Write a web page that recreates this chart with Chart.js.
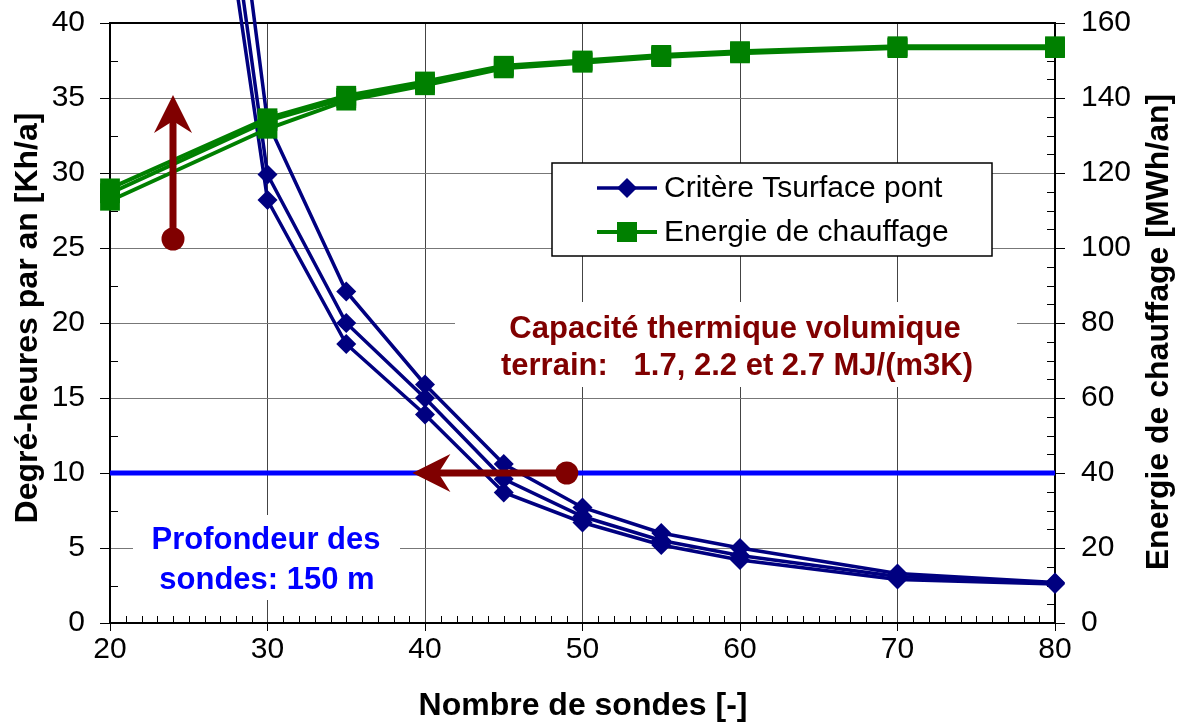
<!DOCTYPE html>
<html>
<head>
<meta charset="utf-8">
<title>Degré-heures et énergie de chauffage</title>
<script src="https://cdn.jsdelivr.net/npm/chart.js@4.4.0/dist/chart.umd.min.js"></script>
<style>
  html, body { margin: 0; padding: 0; background: #fff; }
  #chart { display: block; }
</style>
</head>
<body>
<canvas id="chart" width="1179" height="722"></canvas>
<script>
const nbSondes = [20, 30, 35, 40, 45, 50, 55, 60, 70, 80];

// Critère Tsurface pont, degré-heures par an [Kh/a], one curve per capacité thermique
const critere17 = [115, 33.4, 22.1, 15.9, 10.6, 7.7, 6.0, 5.0, 3.3, 2.7];
const critere22 = [106, 29.9, 20.0, 15.0, 9.6, 7.1, 5.5, 4.5, 3.1, 2.65];
const critere27 = [100, 28.2, 18.6, 13.9, 8.7, 6.7, 5.2, 4.2, 2.9, 2.6];

// Energie de chauffage [MWh/an]
const energie27 = [115.9, 134.6, 140.6, 144.4, 148.6, 150.0, 151.5, 152.5, 153.8, 153.8];
const energie22 = [114.6, 133.9, 140.0, 143.9, 148.3, 149.7, 151.2, 152.2, 153.5, 153.5];
const energie17 = [112.6, 131.8, 139.3, 143.4, 147.9, 149.4, 150.9, 151.9, 153.3, 153.3];

// limite des degré-heures
const seuilX = [20, 80];
const seuilY = [10, 10];

// flèches: vers le haut (sondes, Kh/a début, Kh/a fin) et vers la gauche (Kh/a, sondes début, sondes fin)
const flecheHaut = [24, 25.6, 35.2];
const flecheGauche = [10, 49, 39.2];

const xTicks = { min: 20, max: 80, step: 10 };
const yTicks = { min: 0, max: 40, step: 5 };
const y1Ticks = { min: 0, max: 160, step: 20 };

const FONT = "'Liberation Sans', Arial, Helvetica, sans-serif";
const NAVY = '#000080';
const GREEN = '#008000';
const RED = '#800000';
const BLUE = '#0000ff';

function pts(xs, ys) {
  return xs.map((x, i) => ({ x: x, y: ys[i] }));
}

function greenSet(ys) {
  return {
    data: pts(nbSondes, ys),
    yAxisID: 'y1',
    borderColor: GREEN,
    backgroundColor: GREEN,
    borderWidth: 4,
    pointStyle: 'rect',
    pointRadius: 14,
    pointBorderWidth: 0,
    clip: 15
  };
}

function navySet(ys) {
  return {
    data: pts(nbSondes, ys),
    yAxisID: 'y',
    borderColor: NAVY,
    backgroundColor: NAVY,
    borderWidth: 3.5,
    pointStyle: 'rectRot',
    pointRadius: 10,
    pointBorderWidth: 0,
    clip: { left: 12, top: 30, right: 12, bottom: 12 }
  };
}

function arrow(ctx, x0, y0, x1, y1) {
  const ang = Math.atan2(y1 - y0, x1 - x0);
  const len = Math.hypot(x1 - x0, y1 - y0);
  ctx.save();
  ctx.translate(x0, y0);
  ctx.rotate(ang);
  ctx.fillStyle = RED;
  ctx.fillRect(0, -3.5, len - 24, 7);
  ctx.beginPath();
  ctx.moveTo(len, 0);
  ctx.lineTo(len - 38, -19);
  ctx.lineTo(len - 26, 0);
  ctx.lineTo(len - 38, 19);
  ctx.closePath();
  ctx.fill();
  ctx.beginPath();
  ctx.arc(0, 0, 11.5, 0, Math.PI * 2);
  ctx.fill();
  ctx.restore();
}

function textBox(ctx, box, lines, color) {
  ctx.fillStyle = '#fff';
  ctx.fillRect(box[0], box[1], box[2], box[3]);
  ctx.fillStyle = color;
  ctx.font = 'bold 31px ' + FONT;
  ctx.textAlign = 'center';
  ctx.textBaseline = 'alphabetic';
  lines.forEach(l => ctx.fillText(l[0], l[1], l[2]));
}

const decorations = {
  id: 'decorations',
  beforeDatasetsDraw(chart) {
    const { ctx, chartArea: a, scales } = chart;
    ctx.save();
    ctx.strokeStyle = '#000';
    ctx.lineWidth = 1;
    ctx.beginPath();
    // petites graduations
    for (let v = xTicks.min + 1; v < xTicks.max; v++) {
      if (v % xTicks.step === 0) continue;
      const px = Math.round(scales.x.getPixelForValue(v)) + 0.5;
      ctx.moveTo(px, a.bottom);
      ctx.lineTo(px, a.bottom - 7);
    }
    for (let v = yTicks.step / 2; v < yTicks.max; v += yTicks.step) {
      const py = Math.round(scales.y.getPixelForValue(v)) + 0.5;
      ctx.moveTo(a.left, py);
      ctx.lineTo(a.left + 8, py);
    }
    for (let v = y1Ticks.step / 4; v < y1Ticks.max; v += y1Ticks.step / 4) {
      if (v % y1Ticks.step === 0) continue;
      const py = Math.round(scales.y1.getPixelForValue(v)) + 0.5;
      ctx.moveTo(a.right, py);
      ctx.lineTo(a.right - 8, py);
    }
    ctx.stroke();
    // cadre
    ctx.lineWidth = 2;
    ctx.strokeRect(a.left, a.top, a.right - a.left, a.bottom - a.top);
    ctx.restore();
  },
  afterDatasetsDraw(chart) {
    const { ctx, scales } = chart;
    const { x, y } = scales;
    arrow(ctx,
      x.getPixelForValue(flecheHaut[0]), y.getPixelForValue(flecheHaut[1]),
      x.getPixelForValue(flecheHaut[0]), y.getPixelForValue(flecheHaut[2]));
    arrow(ctx,
      x.getPixelForValue(flecheGauche[1]), y.getPixelForValue(flecheGauche[0]),
      x.getPixelForValue(flecheGauche[2]), y.getPixelForValue(flecheGauche[0]));
  },
  afterDraw(chart) {
    const { ctx } = chart;
    ctx.save();

    // légende
    ctx.fillStyle = '#fff';
    ctx.fillRect(552, 163, 440, 93);
    ctx.strokeStyle = '#000';
    ctx.lineWidth = 1.5;
    ctx.strokeRect(552, 163, 440, 93);
    const rows = [
      { y: 188, color: NAVY, label: 'Critère Tsurface pont', marker: 'diamond' },
      { y: 232, color: GREEN, label: 'Energie de chauffage', marker: 'square' }
    ];
    rows.forEach(r => {
      ctx.strokeStyle = r.color;
      ctx.fillStyle = r.color;
      ctx.lineWidth = r.marker === 'diamond' ? 3.5 : 4;
      ctx.beginPath();
      ctx.moveTo(597, r.y);
      ctx.lineTo(657, r.y);
      ctx.stroke();
      ctx.beginPath();
      if (r.marker === 'diamond') {
        ctx.moveTo(627, r.y - 10);
        ctx.lineTo(637, r.y);
        ctx.lineTo(627, r.y + 10);
        ctx.lineTo(617, r.y);
        ctx.closePath();
      } else {
        ctx.rect(617, r.y - 10, 20, 20);
      }
      ctx.fill();
      ctx.fillStyle = '#000';
      ctx.font = '30px ' + FONT;
      ctx.textAlign = 'left';
      ctx.textBaseline = 'middle';
      ctx.fillText(r.label, 664, r.y + 1);
    });

    // annotations
    textBox(ctx, [455, 302, 562, 85], [
      ['Capacité thermique volumique', 735, 338],
      ['terrain:   1.7, 2.2 et 2.7 MJ/(m3K)', 737, 375]
    ], RED);
    textBox(ctx, [133, 515, 267, 85], [
      ['Profondeur des', 266, 549],
      ['sondes: 150 m', 267, 589]
    ], BLUE);

    // titres des axes
    ctx.fillStyle = '#000';
    ctx.font = 'bold 32px ' + FONT;
    ctx.textAlign = 'center';
    ctx.textBaseline = 'middle';
    ctx.fillText('Nombre de sondes [-]', 583, 706);
    ctx.save();
    ctx.translate(28, 318);
    ctx.rotate(-Math.PI / 2);
    ctx.fillText('Degré-heures par an [Kh/a]', 0, 0);
    ctx.restore();
    ctx.save();
    ctx.translate(1159, 332);
    ctx.rotate(-Math.PI / 2);
    ctx.fillText('Energie de chauffage [MWh/an]', 0, 0);
    ctx.restore();

    ctx.restore();
  }
};

const tickFont = { family: FONT, size: 30, lineHeight: 1 };

// fixed axis sizes, no extra room reserved for the end labels
function fixWidth(w) {
  return s => { s.width = w; s.paddingTop = 0; s.paddingBottom = 0; };
}

new Chart(document.getElementById('chart'), {
  type: 'line',
  data: {
    datasets: [
      greenSet(energie27),
      greenSet(energie22),
      greenSet(energie17),
      navySet(critere17),
      navySet(critere22),
      navySet(critere27),
      {
        data: pts(seuilX, seuilY),
        yAxisID: 'y',
        borderColor: BLUE,
        borderWidth: 5,
        pointRadius: 0
      }
    ]
  },
  options: {
    responsive: false,
    animation: false,
    devicePixelRatio: 1,
    layout: { padding: { top: 23, left: 0, right: 0, bottom: 0 } },
    plugins: {
      legend: { display: false },
      tooltip: { enabled: false }
    },
    scales: {
      x: {
        type: 'linear',
        min: xTicks.min,
        max: xTicks.max,
        afterFit: s => { s.height = 99; s.paddingLeft = 0; s.paddingRight = 0; },
        ticks: { stepSize: xTicks.step, font: tickFont, color: '#000', padding: 4, maxRotation: 0 },
        grid: { color: '#444', lineWidth: 1, tickLength: 8, tickColor: '#000' },
        border: { display: false }
      },
      y: {
        position: 'left',
        min: yTicks.min,
        max: yTicks.max,
        afterFit: fixWidth(110),
        ticks: { stepSize: yTicks.step, font: tickFont, color: '#000', padding: 15 },
        grid: { color: '#777', lineWidth: 1, tickLength: 10, tickColor: '#000' },
        border: { display: false }
      },
      y1: {
        position: 'right',
        min: y1Ticks.min,
        max: y1Ticks.max,
        afterFit: fixWidth(124),
        ticks: { stepSize: y1Ticks.step, font: tickFont, color: '#000', padding: 16 },
        grid: { drawOnChartArea: false, lineWidth: 1, tickLength: 10, tickColor: '#000' },
        border: { display: false }
      }
    }
  },
  plugins: [decorations]
});
</script>
</body>
</html>
